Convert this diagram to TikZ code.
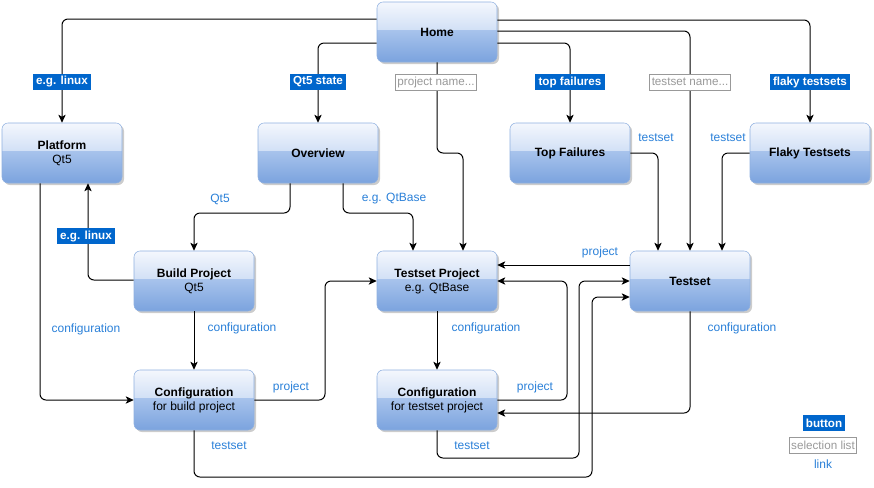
\documentclass[tikz,border=0pt]{standalone}
\usepackage{fontspec}
\setmainfont{Liberation Sans}
\usepackage{xcolor}
\usepackage{tikz}
\usetikzlibrary{arrows.meta,shadows,positioning}

\definecolor{boxtop}{HTML}{F4F7FD}
\definecolor{boxhi}{HTML}{D3E1F6}
\definecolor{boxmid}{HTML}{A8C3EC}
\definecolor{boxbot}{HTML}{7BA3DE}
\definecolor{boxline}{HTML}{8FB0E0}
\definecolor{btnblue}{HTML}{0066CC}
\definecolor{selgray}{HTML}{999999}
\definecolor{linkblue}{HTML}{2A80D8}

\pgfdeclareverticalshading{glossy}{100bp}{color(0bp)=(boxbot); color(25bp)=(boxbot); color(52bp)=(boxmid); color(52.5bp)=(boxhi); color(75bp)=(boxtop); color(100bp)=(boxtop)}

\tikzset{
  page/.style={rectangle, rounded corners=4.5pt, draw=boxline, line width=0.4pt,
    shade, shading=glossy, minimum width=90pt, minimum height=45pt, align=center,
    font=\fontsize{9}{10.5}\selectfont,
    drop shadow={shadow xshift=1.5pt, shadow yshift=-1.5pt, fill=black!20, opacity=1}},
  btn/.style={fill=btnblue, text=white, font=\fontsize{8.75}{9}\selectfont\bfseries,
    inner xsep=2.5pt, inner ysep=1.5pt, minimum height=12pt},
  sel/.style={draw=selgray, fill=white, text=selgray, line width=0.6pt,
    font=\fontsize{8.75}{9}\selectfont, inner xsep=1.5pt, inner ysep=1.5pt, minimum height=12pt},
  lnk/.style={text=linkblue, font=\fontsize{9}{9}\selectfont, inner sep=1pt},
  conn/.style={draw, line width=0.75pt, rounded corners=4.5pt,
    -{Stealth[length=6pt, width=5.5pt, inset=1.5pt]}}
}

\begin{document}
\begin{tikzpicture}[x=0.75pt, y=-0.75pt]
\useasboundingbox (0,0) rectangle (874,487);

% Pages
\node[page] (home) at (437,32) {\textbf{Home}};
\node[page] (platform) at (62,153) {\textbf{Platform}\\Qt5};
\node[page] (overview) at (318,153) {\textbf{Overview}};
\node[page] (topfail) at (570,153) {\textbf{Top Failures}};
\node[page] (flaky) at (810,153) {\textbf{Flaky Testsets}};
\node[page] (buildp) at (194,281) {\textbf{Build Project}\\Qt5};
\node[page] (tsproj) at (437,281) {\textbf{Testset Project}\\e.g. QtBase};
\node[page] (testset) at (690,281) {\textbf{Testset}};
\node[page] (confb) at (194,400) {\textbf{Configuration}\\for build project};
\node[page] (conft) at (437,400) {\textbf{Configuration}\\for testset project};

% Connections from Home
\draw[conn] (home.west |- 0,19) -| (platform);
\draw[conn] (home.west |- 0,43) -| (overview);
\draw[conn] (home.south) |- (463,153) -- (tsproj.north -| 463,0);
\draw[conn] (home.east |- 0,43) -| (topfail);
\draw[conn] (home.east |- 0,31) -| (testset);
\draw[conn] (home.east |- 0,20) -| (flaky);

% Top failures / flaky testsets
\draw[conn] (topfail.east) -| (testset.north -| 658,0);
\draw[conn] (flaky.west) -| (testset.north -| 722,0);

% Overview
\draw[conn] (overview.south -| 290,0) |- (194,213) -- (buildp.north);
\draw[conn] (overview.south -| 343,0) |- (413,213) -- (tsproj.north -| 413,0);

% Build project
\draw[conn] (buildp.west |- 0,280) -| (platform.south -| 88,0);
\draw[conn] (platform.south -| 40,0) |- (confb.west);
\draw[conn] (buildp) -- (confb);
\draw[conn] (confb.east) -| (325,340) |- (tsproj.west);
\draw[conn] (confb.south) |- (592,477) |- (testset.west |- 0,297);

% Testset project
\draw[conn] (tsproj) -- (conft);
\draw[conn] (conft.east) -| (567,340) |- (tsproj.east);
\draw[conn] (conft.south) |- (579,458) |- (testset.west);

% Testset
\draw[conn] (testset.west |- 0,265) -- (tsproj.east |- 0,265);
\draw[conn] (testset.south) |- (conft.east |- 0,413);

% Buttons and selection lists
\node[btn] (bplatform) at (62,82) {e.g. linux};
\node[btn] (bqtstate) at (318,82) {Qt5 state};
\node[sel] (sproject) at (436,82) {project name...};
\node[btn] (btopfail) at (570,82) {top failures};
\node[sel] (stestset) at (690,82) {testset name...};
\node[btn] (bflaky) at (810,82) {flaky testsets};
\node[btn] (bbuildlinux) at (86,236) {e.g. linux};

% Links
\node[lnk] (lqt5) at (220,199) {Qt5};
\node[lnk] (lqtbase) at (394,199) {e.g. QtBase};
\node[lnk] (ltopts) at (656,138) {testset};
\node[lnk] (lflakyts) at (728,138) {testset};
\node[lnk] (lproj1) at (600,252) {project};
\node[lnk] (lconfp) at (86,329) {configuration};
\node[lnk] (lconfb) at (242,328) {configuration};
\node[lnk] (lconft) at (486,328) {configuration};
\node[lnk] (lconfts) at (742,328) {configuration};
\node[lnk] (lproj2) at (291,387) {project};
\node[lnk] (lproj3) at (535,387) {project};
\node[lnk] (ltsb) at (229,446) {testset};
\node[lnk] (ltst) at (472,446) {testset};

% Legend
\node[btn] (legbtn) at (824,423) {button};
\node[sel] (legsel) at (823,445) {selection list};
\node[lnk] (leglink) at (823,464) {link};
\end{tikzpicture}
\end{document}
